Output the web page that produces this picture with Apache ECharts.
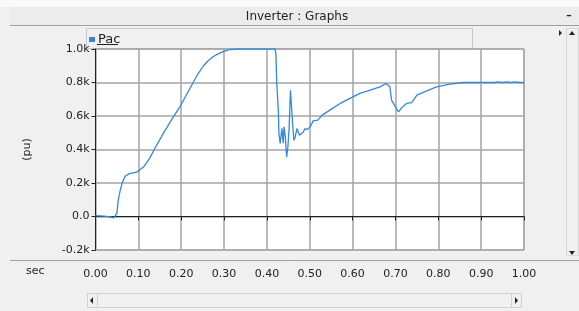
<!DOCTYPE html>
<html>
<head>
<meta charset="utf-8">
<script src="https://cdn.jsdelivr.net/npm/echarts@6/dist/echarts.min.js"></script>
<style>
  html,body{margin:0;padding:0;background:#f0f0f0;}
  #chart{width:579px;height:311px;}
</style>
</head>
<body>
<div id="chart"></div>
<script>
// time (sec) and Pac (k, pu)
const timeSec = [0.000,0.020,0.035,0.043,0.047,0.050,0.053,0.058,0.063,0.069,0.079,0.096,0.112,0.127,0.137,0.158,0.178,0.197,0.213,0.228,0.240,0.252,0.263,0.275,0.287,0.298,0.314,0.330,0.419,0.421,0.423,0.427,0.428,0.431,0.435,0.438,0.440,0.443,0.446,0.449,0.452,0.455,0.457,0.460,0.463,0.466,0.470,0.473,0.476,0.480,0.485,0.489,0.494,0.501,0.508,0.519,0.529,0.547,0.571,0.594,0.617,0.641,0.664,0.678,0.687,0.691,0.699,0.707,0.715,0.726,0.738,0.750,0.773,0.796,0.827,0.858,0.930,0.940,0.950,0.960,0.970,0.980,0.990,1.000]
const pac = [0.005,0.002,-0.003,-0.008,-0.012,0.020,0.096,0.160,0.205,0.240,0.256,0.265,0.295,0.350,0.400,0.495,0.580,0.655,0.730,0.800,0.855,0.900,0.930,0.955,0.972,0.984,0.997,1.000,1.000,0.970,0.800,0.617,0.497,0.437,0.527,0.437,0.535,0.475,0.355,0.415,0.535,0.754,0.744,0.555,0.455,0.475,0.525,0.515,0.485,0.475,0.505,0.525,0.519,0.535,0.571,0.575,0.605,0.635,0.675,0.705,0.735,0.754,0.774,0.794,0.774,0.695,0.659,0.625,0.650,0.675,0.680,0.725,0.750,0.774,0.790,0.800,0.800,0.804,0.800,0.804,0.800,0.804,0.800,0.800]
const xTicks = [0,0.1,0.2,0.3,0.4,0.5,0.6,0.7,0.8,0.9,1.0]
const yTicks = [-0.2,0,0.2,0.4,0.6,0.8,1.0]

const font = 'DejaVu Sans'
const chart = echarts.init(document.getElementById('chart'))

const points = timeSec.map((t, i) => [t, pac[i]])

chart.setOption({
  backgroundColor: '#f0f0f0',
  animation: false,
  textStyle: { fontFamily: font },
  graphic: [
    // window chrome
    { type: 'rect', shape: { x: 0, y: 0, width: 579, height: 7 }, style: { fill: '#fafafa' }, z: -1 },
    { type: 'rect', shape: { x: 10, y: 7, width: 569, height: 18 }, style: { fill: '#ececec' }, z: -1 },
    { type: 'line', shape: { x1: 10, y1: 25.5, x2: 579, y2: 25.5 }, style: { stroke: '#a0a0a0', lineWidth: 1 } },
    { type: 'text', x: 297, y: 17, style: { text: 'Inverter : Graphs', font: '12px ' + font, fill: '#222', align: 'center', verticalAlign: 'middle' } },
    { type: 'text', x: 569, y: 16, style: { text: '–', font: 'bold 11px ' + font, fill: '#222', align: 'center', verticalAlign: 'middle' } },
    // legend strip
    { type: 'rect', shape: { x: 86.5, y: 28.5, width: 386, height: 20 }, style: { fill: '#f0f0f0', stroke: '#c8c8c8', lineWidth: 1 }, z: -1 },
    { type: 'line', shape: { x1: 97, y1: 44.5, x2: 118, y2: 44.5 }, style: { stroke: '#222', lineWidth: 1 }, z: 20 },
    // vertical scrollbar
    { type: 'rect', shape: { x: 566.5, y: 28.5, width: 12, height: 227 }, style: { fill: '#f0f0f0', stroke: '#d8d8d8', lineWidth: 1 } },
    { type: 'polygon', shape: { points: [[569, 35], [575, 35], [572, 31]] }, style: { fill: '#222' } },
    { type: 'polygon', shape: { points: [[569, 251], [575, 251], [572, 255]] }, style: { fill: '#222' } },
    { type: 'polygon', shape: { points: [[559, 30], [559, 36], [562, 33]] }, style: { fill: '#222' } },
    // separator above time axis
    { type: 'line', shape: { x1: 10, y1: 260.5, x2: 579, y2: 260.5 }, style: { stroke: '#a0a0a0', lineWidth: 1 } },
    { type: 'text', x: 26, y: 271, style: { text: 'sec', font: '11px ' + font, fill: '#222', verticalAlign: 'middle' } },
    // horizontal scrollbar
    { type: 'rect', shape: { x: 87.5, y: 293.5, width: 434, height: 14 }, style: { fill: '#f0f0f0', stroke: '#d0d0d0', lineWidth: 1 } },
    { type: 'polygon', shape: { points: [[93, 297], [93, 304], [90, 300.5]] }, style: { fill: '#222' } },
    { type: 'polygon', shape: { points: [[515, 297], [515, 304], [518, 300.5]] }, style: { fill: '#222' } },
    { type: 'line', shape: { x1: 97.5, y1: 294, x2: 97.5, y2: 307 }, style: { stroke: '#d0d0d0', lineWidth: 1 } },
    { type: 'line', shape: { x1: 511.5, y1: 294, x2: 511.5, y2: 307 }, style: { stroke: '#d0d0d0', lineWidth: 1 } }
  ],
  legend: {
    left: 84, top: 28,
    icon: 'rect', itemWidth: 6, itemHeight: 5, itemGap: 4,
    textStyle: { fontFamily: font, fontSize: 13, color: '#222', padding: [0, 0, 0, -2] },
    data: ['Pac']
  },
  grid: {
    left: 95.5, right: 55, top: 49, bottom: 61,
    show: true, backgroundColor: '#ffffff', borderColor: '#a8a8a8', borderWidth: 1
  },
  xAxis: {
    type: 'value', min: 0, max: 1, interval: 0.1,
    offset: 13,
    axisLine: { show: true, lineStyle: { color: '#222', width: 1 } },
    axisTick: { show: true, length: 4, lineStyle: { color: '#222' } },
    axisLabel: {
      margin: 6, fontFamily: font, fontSize: 11, color: '#222',
      formatter: v => xTicks.some(t => Math.abs(t - v) < 1e-9) ? v.toFixed(2) : ''
    },
    splitLine: { show: true, lineStyle: { color: '#a4a4a4', width: 1.5 } }
  },
  yAxis: {
    type: 'value', min: -0.2, max: 1.0, interval: 0.2,
    name: '(pu)', nameLocation: 'middle', nameRotate: 90, nameGap: 63,
    nameTextStyle: { fontFamily: font, fontSize: 11, color: '#222' },
    axisLine: { show: true, lineStyle: { color: '#222', width: 1 } },
    axisTick: { show: true, length: 4, lineStyle: { color: '#222' } },
    axisLabel: {
      margin: 6, fontFamily: font, fontSize: 11, color: '#222',
      formatter: v => {
        const near = yTicks.find(t => Math.abs(t - v) < 1e-9)
        if (near === undefined) return ''
        return near === 0 ? '0.0' : near.toFixed(1) + 'k'
      }
    },
    splitLine: { show: true, lineStyle: { color: '#a4a4a4', width: 1.5 } }
  },
  series: [{
    name: 'Pac', type: 'line', data: points,
    showSymbol: false, symbol: 'none',
    lineStyle: { color: '#3388dd', width: 1.3 },
    itemStyle: { color: '#3388dd' }
  }]
})
</script>
</body>
</html>
